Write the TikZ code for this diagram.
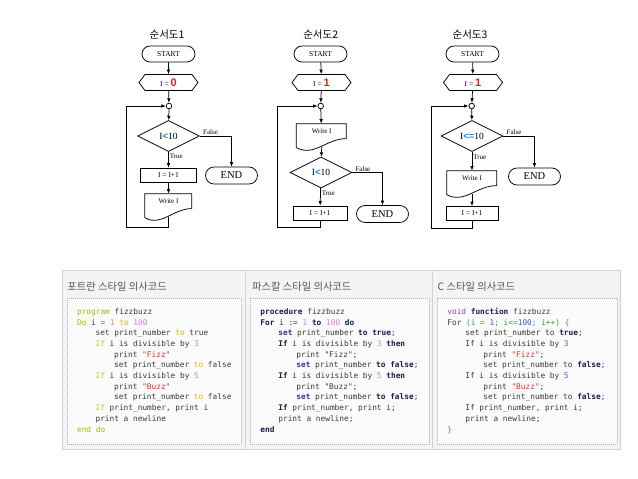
\documentclass[tikz,border=0pt]{standalone}
\usepackage{fontspec}
\setmainfont{Liberation Serif}
\newfontfamily\krfont{Noto Sans CJK KR}
\newfontfamily\codefont{DejaVu Sans Mono}
\newfontfamily\numfont{Liberation Sans}
\usetikzlibrary{arrows.meta,shapes.geometric,shapes.misc,shapes.symbols}

\definecolor{redval}{HTML}{E02020}
\definecolor{blueop}{HTML}{1E80DA}
\definecolor{tblline}{HTML}{D2D2D2}
\definecolor{tblfill}{HTML}{F4F4F4}
\definecolor{codebg}{HTML}{FBFBFB}
\definecolor{dotline}{HTML}{9DB3CC}
\definecolor{codetxt}{HTML}{383838}
\definecolor{hdrtxt}{HTML}{555555}
\definecolor{kwolive}{HTML}{B4B400}
\definecolor{kwyel}{HTML}{DDB900}
\definecolor{numpink}{HTML}{D77AD7}
\definecolor{strred}{HTML}{E03030}
\definecolor{kwnavy}{HTML}{1C1C4C}
\definecolor{kwpurp}{HTML}{4A2A8C}
\definecolor{cgreen}{HTML}{3C9C3C}
\definecolor{cblue}{HTML}{3C5CD0}
\definecolor{cviolet}{HTML}{A040A0}

% keyword colours of the three code columns
\newcommand\ftkey[1]{\textcolor{kwolive}{#1}}
\newcommand\ftto[1]{\textcolor{kwyel}{#1}}
\newcommand\ftnum[1]{\textcolor{numpink}{#1}}
\newcommand\strtxt[1]{\textcolor{strred}{#1}}
\newcommand\pskey[1]{\textcolor{kwnavy}{\bfseries #1}}
\newcommand\psset[1]{\textcolor{kwpurp}{\bfseries #1}}
\newcommand\ckey[1]{\textcolor{kwnavy}{\bfseries #1}}
\newcommand\cgr[1]{\textcolor{cgreen}{#1}}
\newcommand\cnum[1]{\textcolor{cblue}{#1}}

% outline of a "document" box (wavy bottom) over a node
\newcommand\docoutline[3]{%
  \begin{scope}[shift={(#1.north west)}]
    \draw (0,0) -- (#2,0) -- (#2,{0.5*#3})
      .. controls ({0.6*#2},{0.5*#3}) and ({0.35*#2},{1.12*#3}) .. (0,{0.8*#3}) -- cycle;
  \end{scope}}

\begin{document}
\begin{tikzpicture}[x=1pt, y=-1pt, line width=0.75pt,
  >={Latex[length=4.5pt,width=3.6pt]},
  chtitle/.style={font=\krfont\fontsize{10.5}{12}\selectfont},
  term/.style={rounded rectangle, draw, minimum width=53pt, minimum height=16pt,
    inner sep=0pt, font=\fontsize{7.5}{8}\selectfont},
  endterm/.style={term, minimum width=52pt, minimum height=17pt, font=\fontsize{10.5}{11}\selectfont},
  hexa/.style={signal, signal to=east and west, signal pointer angle=106, draw,
    minimum width=59pt, minimum height=16pt, inner sep=0pt, font=\fontsize{7.5}{8}\selectfont},
  joint/.style={circle, draw, fill=white, minimum size=5.6pt, inner sep=0pt},
  cond/.style={diamond, draw, aspect=2, minimum width=62pt, minimum height=31pt,
    inner sep=0pt, font=\fontsize{9.5}{10}\selectfont},
  procbox/.style={rectangle, draw, minimum width=56pt, minimum height=14pt,
    inner sep=0pt, font=\fontsize{7.5}{8}\selectfont},
  docbox/.style={rectangle, minimum height=30pt, inner sep=0pt, text depth=16pt,
    font=\fontsize{7}{8}\selectfont},
  lbl/.style={inner sep=1pt, font=\fontsize{7}{8}\selectfont},
  hdr/.style={anchor=west, inner sep=0pt, text=hdrtxt, font=\krfont\fontsize{10.3}{11}\selectfont},
  codeln/.style={anchor=base west, inner sep=0pt, text=codetxt,
    font=\codefont\fontsize{7.8}{9}\selectfont}]
\useasboundingbox (0,0) rectangle (638,479);

% ---- 순서도1
\node[chtitle] (t1) at (167,35) {순서도1};
\node[term] (s1) at (168.5,54) {START};
\node[hexa] (h1) at (168.5,82.5) {I = {\numfont\bfseries\fontsize{11}{11}\selectfont\color{redval}0}};
\node[joint] (j1) at (169,106) {};
\node[cond] (c1) at (168.5,136) {I{\numfont\bfseries\color{blueop}<}10};
\node[procbox] (p1) at (168.5,175) {I = I+1};
\node[endterm] (e1) at (231.5,175.5) {END};
\node[docbox, minimum width=47pt] (w1) at (168.5,209) {Write I};
\docoutline{w1}{47}{30}
\coordinate (w1o) at ([yshift=-23pt]w1.north);
\coordinate (lp1) at (126,227);
\draw[->] (s1) -- (h1);
\draw[->] (h1) -- (j1);
\draw[->] (j1) -- (c1);
\draw[->] (c1) -- node[lbl, right, pos=0.3] {True} (p1);
\draw[->] (c1.east) -| node[lbl, above right, pos=0.03] {False} (e1.north);
\draw[->] (p1) -- (w1);
\draw[->] (w1o) |- (lp1) |- (j1.west);

% ---- 순서도2
\node[chtitle] (t2) at (320.7,35) {순서도2};
\node[term] (s2) at (320.5,54) {START};
\node[hexa] (h2) at (321.5,82.5) {I = {\numfont\bfseries\fontsize{11}{11}\selectfont\color{redval}1}};
\node[joint] (j2) at (320.7,106) {};
\node[docbox, minimum width=50pt] (w2) at (321.7,139) {Write I};
\docoutline{w2}{50}{30}
\coordinate (w2o) at ([yshift=-23pt]w2.north);
\node[cond] (c2) at (321,172.5) {I{\numfont\bfseries\color{blueop}<}10};
\node[procbox, minimum width=54pt] (p2) at (320,213) {I = I+1};
\node[endterm] (e2) at (382.5,214) {END};
\coordinate (lp2) at (277.3,227);
\draw[->] (s2) -- (h2);
\draw[->] (h2) -- (j2);
\draw[->] (j2) -- (w2);
\draw[->] (w2o) -- (c2);
\draw[->] (c2) -- node[lbl, right, pos=0.3] {True} (p2);
\draw[->] (c2.east) -| node[lbl, above right, pos=0.03] {False} (e2.north);
\draw[->] (p2) |- (lp2) |- (j2.west);

% ---- 순서도3
\node[chtitle] (t3) at (470,35) {순서도3};
\node[term] (s3) at (472.5,54) {START};
\node[hexa] (h3) at (473,82.5) {I = {\numfont\bfseries\fontsize{11}{11}\selectfont\color{redval}1}};
\node[joint] (j3) at (471.7,106) {};
\node[cond] (c3) at (472,136) {I{\numfont\bfseries\color{blueop}<=}10};
\node[docbox, minimum width=50pt] (w3) at (472,186) {Write I};
\docoutline{w3}{50}{30}
\coordinate (w3o) at ([yshift=-23pt]w3.north);
\node[procbox, minimum width=52pt] (p3) at (472,213.5) {I = I+1};
\node[endterm] (e3) at (534.5,176.5) {END};
\coordinate (lp3) at (431.7,228);
\draw[->] (s3) -- (h3);
\draw[->] (h3) -- (j3);
\draw[->] (j3) -- (c3);
\draw[->] (c3) -- node[lbl, right, pos=0.3] {True} (w3);
\draw[->] (c3.east) -| node[lbl, above right, pos=0.03] {False} (e3.north);
\draw[->] (w3o) -- (p3);
\draw[->] (p3) |- (lp3) |- (j3.west);

% ---- 의사코드 표
\draw[tblline, fill=tblfill] (62,270) rectangle (620,449);
\draw[tblline] (245,270) -- (245,449);
\draw[tblline] (432.5,270) -- (432.5,449);
\foreach \xa/\xb in {67/241.5, 250/429, 437/617} {
  \draw[dotline, fill=codebg, dash pattern=on 1pt off 1pt] (\xa,298) rectangle (\xb,444);
}
\node[hdr] (hf) at (67,287) {포트란 스타일 의사코드};
\node[hdr] (hp) at (251.7,287) {파스칼 스타일 의사코드};
\node[hdr] (hc) at (437.3,287) {C 스타일 의사코드};

% 포트란
\foreach \n/\ind/\txt in {
  1/0/{\ftkey{program} fizzbuzz},
  2/0/{\ftkey{Do} i \cgr{=} \ftnum{1} \ftto{to} \ftnum{100}},
  3/1/{set print\_number \ftto{to} true},
  4/1/{\ftto{If} i is divisible by \ftnum{3}},
  5/2/{print \strtxt{"Fizz"}},
  6/2/{set print\_number \ftto{to} false},
  7/1/{\ftto{If} i is divisible by \ftnum{5}},
  8/2/{print \strtxt{"Buzz"}},
  9/2/{set print\_number \ftto{to} false},
  10/1/{\ftto{If} print\_number, print i},
  11/1/{print a newline},
  12/0/{\ftkey{end do}}} {
  \node[codeln] (fort\n) at ({76.7+18.5*\ind},{314.3+10.7*(\n-1)}) {\txt};
}
% 파스칼
\foreach \n/\ind/\txt in {
  1/0/{\pskey{procedure} fizzbuzz},
  2/0/{\pskey{For} i := \ftnum{1} \pskey{to} \ftnum{100} \pskey{do}},
  3/1/{\psset{set} print\_number \pskey{to true};},
  4/1/{\pskey{If} i is divisible by \ftnum{3} \pskey{then}},
  5/2/{print "Fizz";},
  6/2/{\psset{set} print\_number \pskey{to false};},
  7/1/{\pskey{If} i is divisible by \ftnum{5} \pskey{then}},
  8/2/{print "Buzz";},
  9/2/{\psset{set} print\_number \pskey{to false};},
  10/1/{\pskey{If} print\_number, print i;},
  11/1/{print a newline;},
  12/0/{\pskey{end}}} {
  \node[codeln] (pasc\n) at ({260+18*\ind},{314.3+10.7*(\n-1)}) {\txt};
}
% C
\foreach \n/\ind/\txt in {
  1/0/{\textcolor{cviolet}{void} \ckey{function} fizzbuzz},
  2/0/{For \cgr{(i = }\cnum{1}\cgr{; i<=}\cnum{100}\cgr{; i++) \{}},
  3/1/{set print\_number to \ckey{true};},
  4/1/{If i is divisible by \cnum{3}},
  5/2/{print \strtxt{"Fizz"};},
  6/2/{set print\_number to \ckey{false};},
  7/1/{If i is divisible by \cnum{5}},
  8/2/{print \strtxt{"Buzz"};},
  9/2/{set print\_number to \ckey{false};},
  10/1/{If print\_number, print i;},
  11/1/{print a newline;},
  12/0/{\cgr{\}}}} {
  \node[codeln] (cst\n) at ({447+18*\ind},{314.3+10.7*(\n-1)}) {\txt};
}
\end{tikzpicture}
\end{document}
